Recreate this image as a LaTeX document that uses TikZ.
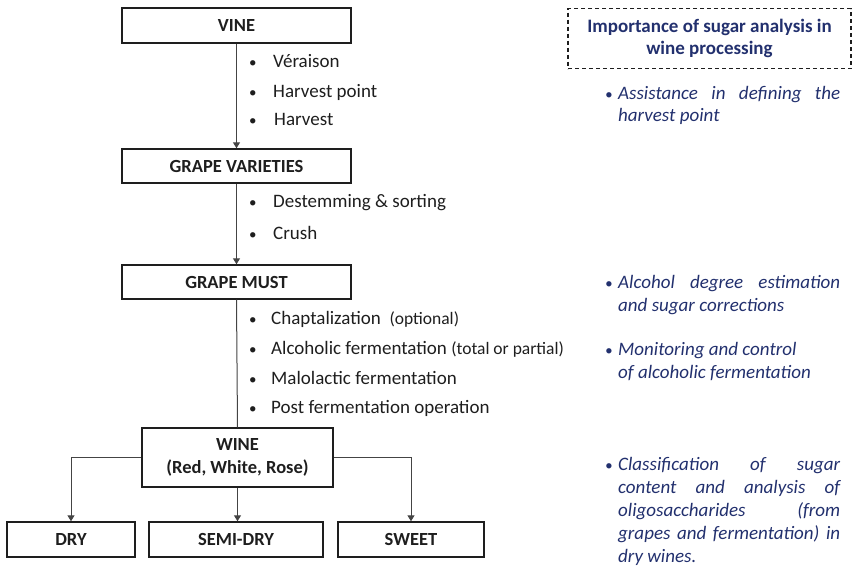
\documentclass[tikz,border=0pt]{standalone}
\usepackage{fontspec}
\setmainfont{Carlito}
\usetikzlibrary{arrows.meta}
\definecolor{navy}{HTML}{22306E}
\definecolor{ink}{HTML}{1E1E1E}
\definecolor{wire}{HTML}{444444}
\newcommand{\bul}{{\fontsize{15}{15}\selectfont•}}
\begin{document}
\begin{tikzpicture}[x=1pt,y=-1pt,
  box/.style={draw=ink, line width=1.4pt, text=ink, inner sep=0pt, align=center,
    font=\bfseries\fontsize{18.5}{23}\selectfont},
  item/.style={anchor=mid west, text=ink, inner sep=0pt,
    font=\fontsize{19}{22}\selectfont},
  note/.style={anchor=mid west, text=navy, inner sep=0pt,
    font=\itshape\fontsize{19}{22}\selectfont},
  conn/.style={draw=wire, line width=1pt},
  arr/.style={conn, -{Triangle[length=6pt,width=7pt]}}
]
\useasboundingbox (0,0) rectangle (857,573);

% main boxes
\node[box, minimum width=229pt, minimum height=35pt] (vine) at (236.5,25.5) {VINE};
\node[box, minimum width=229pt, minimum height=34pt] (gv) at (236.5,166) {GRAPE VARIETIES};
\node[box, minimum width=229pt, minimum height=34pt] (gm) at (236.5,282) {GRAPE MUST};
\node[box, minimum width=191pt, minimum height=59pt] (wine) at (237.5,457.5) {WINE\\(Red, White, Rose)};
\node[box, minimum width=128pt, minimum height=35pt] (dry) at (71,539.5) {DRY};
\node[box, minimum width=174pt, minimum height=35pt] (semi) at (236,539.5) {SEMI-DRY};
\node[box, minimum width=146pt, minimum height=35pt] (sweet) at (411,539.5) {SWEET};

% connectors
\draw[arr] (vine.south) -- (gv.north);
\draw[arr] (gv.south) -- (gm.north);
\draw[conn] (gm.south) -- (wine.north);
\draw[arr] (wine.west) -| (dry.north);
\draw[arr] (wine.south) -- (wine.south |- semi.north);
\draw[arr] (wine.east) -| (sweet.north);

% process steps
\node[item] (s1) at (249,65) {\makebox[24pt][l]{\bul}Véraison};
\node[item] (s2) at (249,95) {\makebox[24pt][l]{\bul}Harvest point};
\node[item] (s3) at (249,123) {\makebox[24pt][l]{\bul}\kern1pt Harvest};
\node[item] (s4) at (249,205) {\makebox[24pt][l]{\bul}Destemming \& sorting};
\node[item] (s5) at (249,237) {\makebox[24pt][l]{\bul}Crush};
\node[item] (s6) at (249,322) {\makebox[22pt][l]{\bul}Chaptalization\ \ {\fontsize{17.5}{20}\selectfont(optional)}};
\node[item] (s7) at (249,352) {\makebox[22pt][l]{\bul}Alcoholic fermentation {\fontsize{17.5}{20}\selectfont(total or partial)}};
\node[item] (s8) at (249,382) {\makebox[22pt][l]{\bul}Malolactic fermentation};
\node[item] (s9) at (249,411) {\makebox[22pt][l]{\bul}Post fermentation operation};

% importance box
\node[draw=ink, dashed, dash pattern=on 4pt off 3pt, line width=1.2pt,
  minimum width=283pt, minimum height=60pt, inner sep=0pt, align=center,
  text=navy, font=\bfseries\fontsize{19}{22}\selectfont] (imp) at (709.5,38.5)
  {Importance of sugar analysis in\\wine processing};

% notes
\node[note] (a1) at (605,97) {\makebox[13pt][l]{\bul}\makebox[222pt][s]{Assistance in defining the}};
\node[note] (a2) at (618,119) {harvest point};
\node[note] (b1) at (605,286) {\makebox[13pt][l]{\bul}\makebox[222pt][s]{Alcohol degree estimation}};
\node[note] (b2) at (618,309) {and sugar corrections};
\node[note] (c1) at (605,353) {\makebox[13pt][l]{\bul}Monitoring and control};
\node[note] (c2) at (618,376) {of alcoholic fermentation};
\node[note] (d1) at (605,468) {\makebox[13pt][l]{\bul}\makebox[222pt][s]{Classification of sugar}};
\node[note] (d2) at (618,491) {\makebox[222pt][s]{content and analysis of}};
\node[note] (d3) at (618,514) {\makebox[222pt][s]{oligosaccharides (from}};
\node[note] (d4) at (618,537) {\makebox[222pt][s]{grapes and fermentation) in}};
\node[note] (d5) at (618,560) {dry wines.};
\end{tikzpicture}
\end{document}
